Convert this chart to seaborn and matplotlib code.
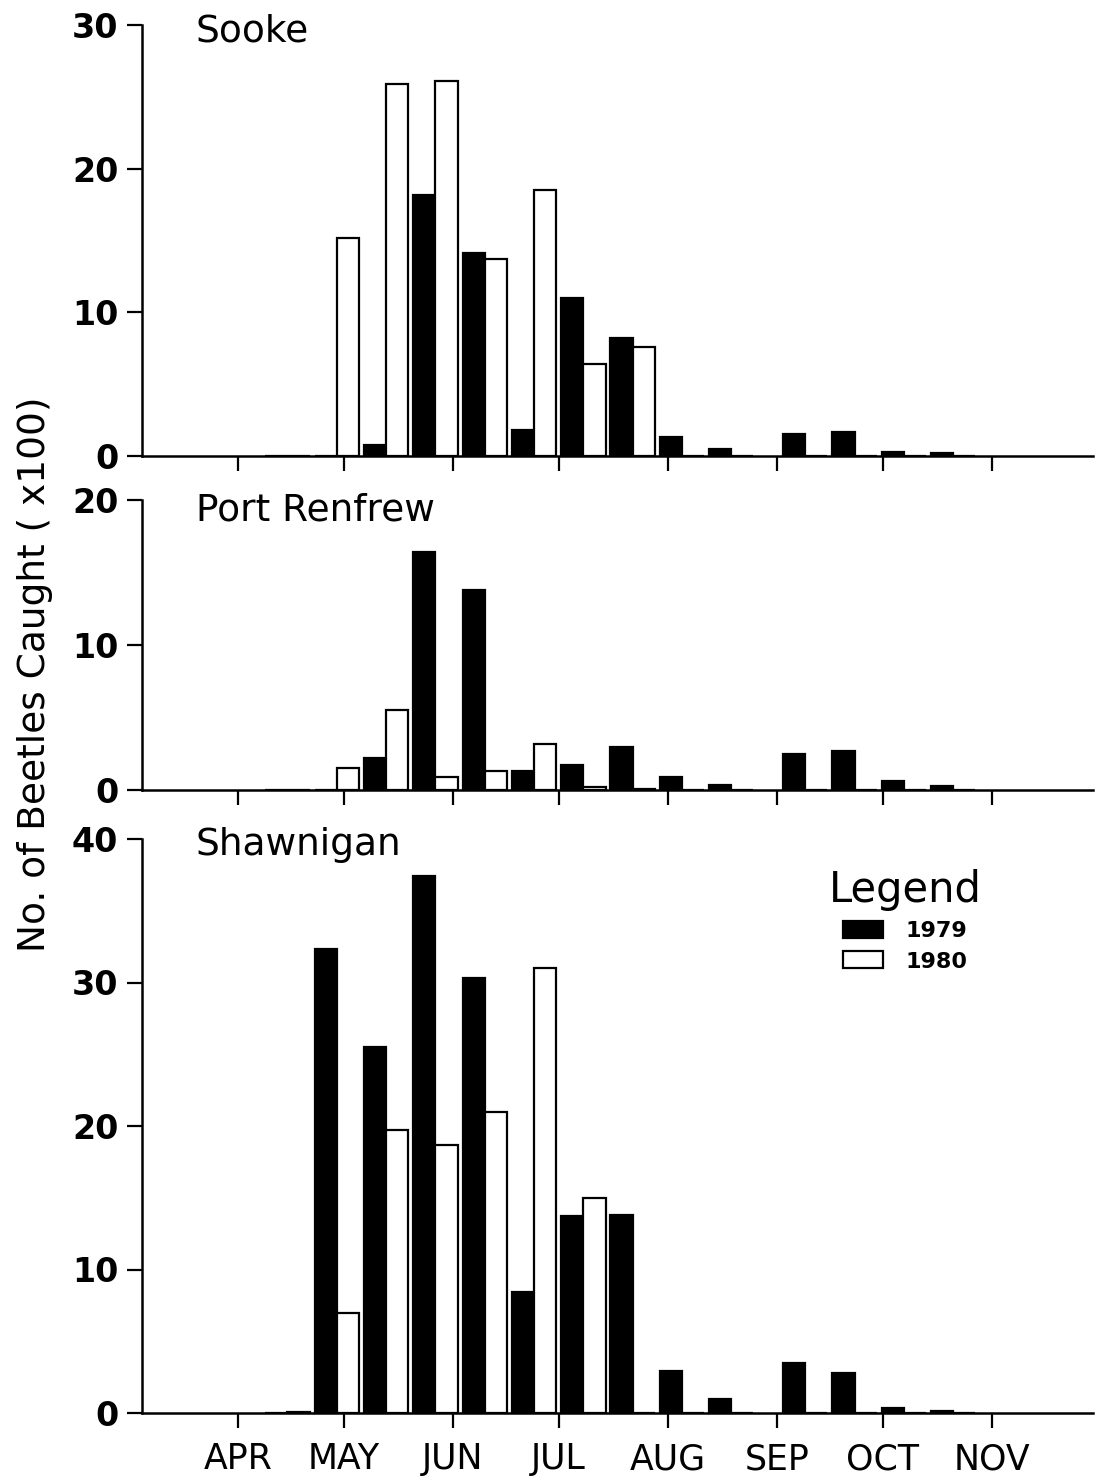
import matplotlib
matplotlib.use("Agg")
import matplotlib.pyplot as plt
from matplotlib.patches import Patch
import pandas as pd
import seaborn as sns

# Trap collection dates (mid-point of each sampling period)
dates = ["Apr 15", "Apr 29", "May 13", "May 27", "Jun 10", "Jun 24", "Jul 8",
         "Jul 22", "Aug 5", "Aug 19", "Sep 9", "Sep 23", "Oct 7", "Oct 21"]

# Beetles caught (x100) per period and site
sooke_1979 = [0, 0, 0.8, 18.2, 14.1, 1.8, 11.0, 8.2, 1.3, 0.5, 1.5, 1.7, 0.25, 0.2]
sooke_1980 = [0, 15.2, 25.9, 26.1, 13.7, 18.5, 6.4, 7.6, 0, 0, 0, 0, 0, 0]

renfrew_1979 = [0, 0, 2.2, 16.4, 13.8, 1.3, 1.7, 3.0, 0.9, 0.35, 2.5, 2.7, 0.6, 0.25]
renfrew_1980 = [0, 1.5, 5.5, 0.9, 1.3, 3.2, 0.2, 0.1, 0, 0, 0, 0, 0, 0]

shawnigan_1979 = [0, 32.3, 25.5, 37.4, 30.3, 8.4, 13.7, 13.8, 2.9, 1.0, 3.5, 2.8, 0.35, 0.15]
shawnigan_1980 = [0.1, 7.0, 19.7, 18.7, 21.0, 31.0, 15.0, 0, 0, 0, 0, 0, 0, 0]

sites = ["Sooke", "Port Renfrew", "Shawnigan"]
years = ["1979", "1980"]
month_labels = ["APR", "MAY", "JUN", "JUL", "AUG", "SEP", "OCT", "NOV"]
y_ticks = {"Sooke": [0, 10, 20, 30], "Port Renfrew": [0, 10, 20],
           "Shawnigan": [0, 10, 20, 30, 40]}

series = {
    "Sooke": (sooke_1979, sooke_1980),
    "Port Renfrew": (renfrew_1979, renfrew_1980),
    "Shawnigan": (shawnigan_1979, shawnigan_1980),
}

doy = pd.to_datetime(["1979 " + d for d in dates], format="%Y %b %d").dayofyear
month_doy = pd.to_datetime(["1979 " + m for m in month_labels],
                           format="%Y %b").dayofyear

sns.set_style("ticks")
plt.rcParams["font.family"] = ["DejaVu Sans"]
plt.rcParams.update({"text.color": "black", "axes.labelcolor": "black",
                     "xtick.color": "black", "ytick.color": "black",
                     "axes.edgecolor": "black"})

palette = {"1979": "black", "1980": "white"}

W, H = 1095, 1483
fig = plt.figure(figsize=(W / 100, H / 100), dpi=100)

left = 142 / W
width = 951 / W
rects = {
    "Sooke": (left, 1 - 456 / H, width, 431 / H),
    "Port Renfrew": (left, 1 - 790 / H, width, 290 / H),
    "Shawnigan": (left, 1 - 1413 / H, width, 574 / H),
}
title_y = {"Sooke": 42, "Port Renfrew": 521, "Shawnigan": 855}

for site in sites:
    ax = fig.add_axes(rects[site])
    v79, v80 = series[site]
    df = pd.DataFrame({
        "doy": list(doy) * 2,
        "year": ["1979"] * len(doy) + ["1980"] * len(doy),
        "count": list(v79) + list(v80),
    })
    sns.barplot(data=df, x="doy", y="count", hue="year", hue_order=years,
                palette=palette, native_scale=True, width=0.9, dodge=True,
                edgecolor="black", linewidth=1.6, errorbar=None,
                legend=False, ax=ax)
    ax.set_xlim(63.7, 333.7)
    top = y_ticks[site][-1]
    ax.set_ylim(0, top)
    ax.set_yticks(y_ticks[site])
    ax.set_yticklabels([str(t) for t in y_ticks[site]],
                       fontsize=24, fontweight="bold", color="black")
    ax.set_xticks(list(month_doy))
    if site == "Shawnigan":
        ax.set_xticklabels(month_labels, fontsize=25, color="black")
    else:
        ax.set_xticklabels([])
    ax.tick_params(axis="both", direction="out", length=11, width=1.6,
                   color="black", labelcolor="black")
    ax.tick_params(axis="y", pad=6)
    ax.tick_params(axis="x", pad=10)
    ax.set_xlabel("")
    ax.set_ylabel("")
    for side in ("top", "right"):
        ax.spines[side].set_visible(False)
    for side in ("left", "bottom"):
        ax.spines[side].set_linewidth(1.8)
        ax.spines[side].set_color("black")
    ax.patch.set_alpha(0)
    fig.text(196 / W, 1 - title_y[site] / H, site, fontsize=27,
             ha="left", va="baseline", color="black")

fig.text(35 / W, 1 - 674 / H, "No. of Beetles Caught ( x100)", fontsize=27,
         rotation=90, ha="center", va="center", color="black")

handles = [Patch(facecolor=palette[y], edgecolor="black", linewidth=1.6)
           for y in years]
leg = fig.legend(handles, years, title="Legend", loc="upper left",
                 bbox_to_anchor=(818 / W, 1 - 858 / H),
                 bbox_transform=fig.transFigure, frameon=False,
                 prop={"size": 16, "weight": "bold"}, title_fontsize=30,
                 handlelength=1.8, handleheight=0.8, handletextpad=1.0,
                 labelspacing=0.45, borderpad=0)
for t in leg.get_texts():
    t.set_color("black")
leg.get_title().set_color("black")

fig.savefig("out.png", dpi=100, facecolor="white")
